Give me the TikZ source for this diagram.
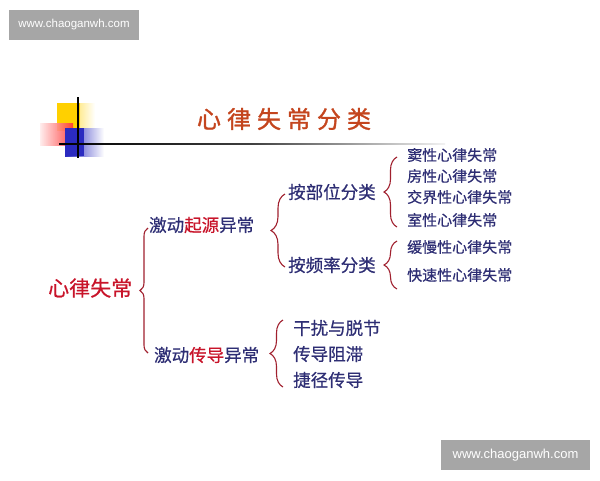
\documentclass[tikz,border=0pt]{standalone}
\usepackage{fontspec}
\setmainfont{Liberation Sans}
\newfontfamily\cjk[FakeBold=0.6]{Noto Sans CJK SC}
\newfontfamily\cjkt[FakeBold=1.2]{Noto Sans CJK SC}
\usetikzlibrary{decorations.pathreplacing}
\definecolor{navy}{HTML}{2E2E74}
\definecolor{tred}{HTML}{C8142A}
\definecolor{brc}{HTML}{A0202E}
\definecolor{ttl}{HTML}{C4451E}
\definecolor{wm}{HTML}{A6A6A6}
\definecolor{lblue}{HTML}{2B2BC0}
\definecolor{lyel}{HTML}{FFD000}
\tikzset{
  wmbox/.style={fill=wm,draw=none,inner sep=0pt},
  wmtext/.style={text=white,font=\fontsize{11.5}{12}\selectfont},
  lvlA/.style={anchor=west,inner sep=0pt,text=tred,font=\cjk\fontsize{21}{22}\selectfont},
  lvlB/.style={anchor=west,inner sep=0pt,text=navy,font=\cjk\fontsize{17.5}{18}\selectfont},
  lvlC/.style={anchor=west,inner sep=0pt,text=navy,font=\cjk\fontsize{15}{16}\selectfont},
  brc/.style={draw=brc,line width=1.1pt,decorate,decoration={brace,amplitude=#1}},
}
\begin{document}
\begin{tikzpicture}[x=1pt,y=-1pt]
\useasboundingbox (0,0) rectangle (600,480);
% watermarks
\fill[wmbox] (9,10) rectangle (139,40);
\node[wmtext] (wm1) at (74,25) {www.chaoganwh.com};
\fill[wmbox] (441,440) rectangle (590,470);
\node[wmtext,font=\fontsize{13}{14}\selectfont] (wm2) at (515.5,455) {www.chaoganwh.com};
% logo
\shade[left color=lyel, right color=white] (57,103) rectangle (95,130);
\fill[lyel] (57,103) rectangle (80,130);
\shade[left color=red!8, right color=red!80, opacity=0.9] (40,123) rectangle (73,145);
\shade[left color=lblue, right color=white] (65,128) rectangle (104,156);
\fill[lblue] (65,128) rectangle (84,156);
\draw[black,line width=1.2pt] (78,97) -- (78,158);
\shade[left color=black, right color=gray!10, middle color=black!75] (59,143.3) rectangle (445,144.7);
% title
\node[inner sep=0pt,text=ttl,font=\cjkt\fontsize{24}{25}\selectfont] (title) at (284,119) {心\hspace{6pt}律\hspace{6pt}失\hspace{6pt}常\hspace{6pt}分\hspace{6pt}类};
% tree
\node[lvlA] (root) at (48,288) {心律失常};
\node[lvlB] (a) at (149,225) {激动{\color{tred}起源}异常};
\node[lvlB] (b) at (154,355) {激动{\color{tred}传导}异常};
\node[lvlB] (a1) at (288,192) {按部位分类};
\node[lvlB] (a2) at (288,265) {按频率分类};
\node[lvlC] (a11) at (407,155) {窦性心律失常};
\node[lvlC] (a12) at (407,176) {房性心律失常};
\node[lvlC] (a13) at (407,197) {交界性心律失常};
\node[lvlC] (a14) at (407,220) {室性心律失常};
\node[lvlC] (a21) at (407,247) {缓慢性心律失常};
\node[lvlC] (a22) at (407,275) {快速性心律失常};
\node[lvlB] (b1) at (293,328) {干扰与脱节};
\node[lvlB] (b2) at (293,354) {传导阻滞};
\node[lvlB] (b3) at (293,380) {捷径传导};
% braces
\coordinate (m0) at (148,353); \coordinate (m1) at (148,228);
\draw[brc=8pt] (m0) -- (m1);
\coordinate (p0) at (285,267); \coordinate (p1) at (285,194);
\draw[brc=14pt] (p0) -- (p1);
\coordinate (q0) at (397,227); \coordinate (q1) at (397,157);
\draw[brc=13pt] (q0) -- (q1);
\coordinate (r0) at (397,289); \coordinate (r1) at (397,241);
\draw[brc=13pt] (r0) -- (r1);
\coordinate (s0) at (283,387); \coordinate (s1) at (283,320);
\draw[brc=13pt] (s0) -- (s1);
\end{tikzpicture}
\end{document}
